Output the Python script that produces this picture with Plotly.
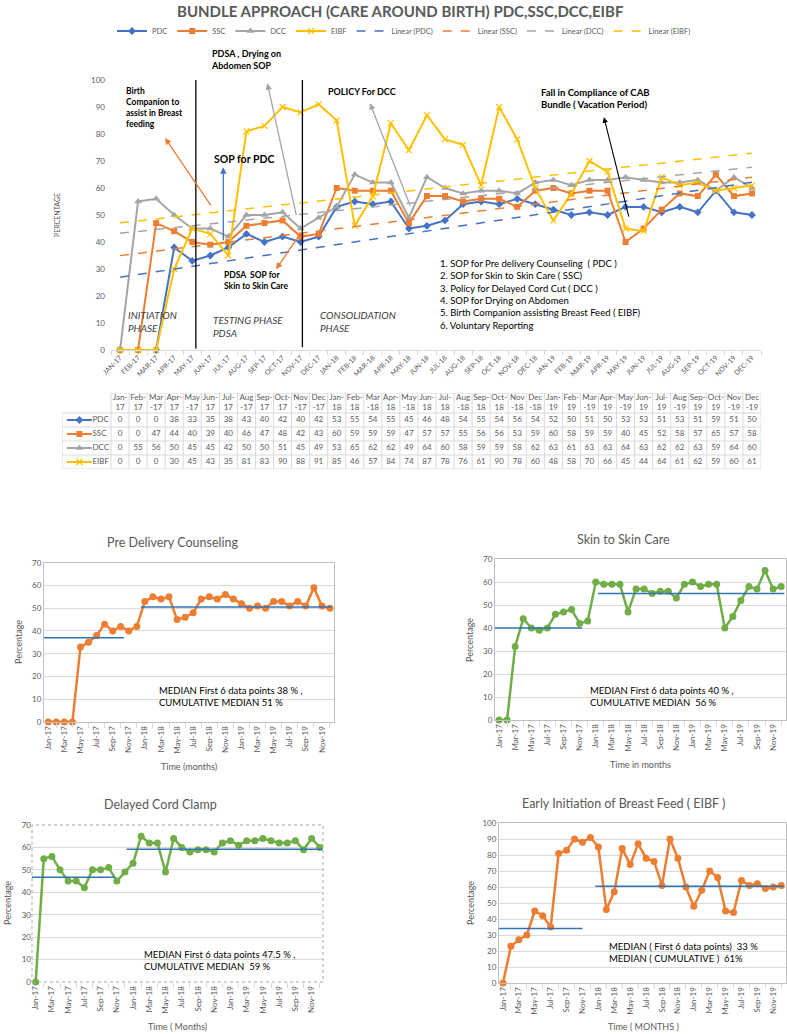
import numpy as np
import plotly.graph_objects as go

# ---------------- data ----------------
months = ["Jan-17", "Feb-17", "Mar-17", "Apr-17", "May-17", "Jun-17", "Jul-17", "Aug-17", "Sep-17",
          "Oct-17", "Nov-17", "Dec-17", "Jan-18", "Feb-18", "Mar-18", "Apr-18", "May-18", "Jun-18",
          "Jul-18", "Aug-18", "Sep-18", "Oct-18", "Nov-18", "Dec-18", "Jan-19", "Feb-19", "Mar-19",
          "Apr-19", "May-19", "Jun-19", "Jul-19", "Aug-19", "Sep-19", "Oct-19", "Nov-19", "Dec-19"]

pdc = [0, 0, 0, 38, 33, 35, 38, 43, 40, 42, 40, 42, 53, 55, 54, 55, 45, 46, 48, 54, 55, 54, 56, 54,
       52, 50, 51, 50, 53, 53, 51, 53, 51, 59, 51, 50]
ssc = [0, 0, 47, 44, 40, 39, 40, 46, 47, 48, 42, 43, 60, 59, 59, 59, 47, 57, 57, 55, 56, 56, 53, 59,
       60, 58, 59, 59, 40, 45, 52, 58, 57, 65, 57, 58]
dcc = [0, 55, 56, 50, 45, 45, 42, 50, 50, 51, 45, 49, 53, 65, 62, 62, 49, 64, 60, 58, 59, 59, 58, 62,
       63, 61, 63, 63, 64, 63, 62, 62, 63, 59, 64, 60]
eibf = [0, 0, 0, 30, 45, 43, 35, 81, 83, 90, 88, 91, 85, 46, 57, 84, 74, 87, 78, 76, 61, 90, 78, 60,
        48, 58, 70, 66, 45, 44, 64, 61, 62, 59, 60, 61]

# run charts (bottom panels)
pdc_run = [0, 0, 0, 0, 33, 35, 38, 43, 40, 42, 40, 42, 53, 55, 54, 55, 45, 46, 48, 54, 55, 54, 56, 54,
           52, 50, 51, 50, 53, 53, 51, 53, 51, 59, 51, 50]
ssc_run = [0, 0, 32, 44, 40, 39, 40, 46, 47, 48, 42, 43, 60, 59, 59, 59, 47, 57, 57, 55, 56, 56, 53, 59,
           60, 58, 59, 59, 40, 45, 52, 58, 57, 65, 57, 58]
dcc_run = [0, 55, 56, 50, 45, 45, 42, 50, 50, 51, 45, 49, 53, 65, 62, 62, 49, 64, 60, 58, 59, 59, 58, 62,
           63, 61, 63, 63, 64, 63, 62, 62, 63, 59, 64, 60]
eibf_run = [0, 23, 27, 30, 45, 42, 35, 81, 83, 90, 88, 91, 85, 46, 57, 84, 74, 87, 78, 76, 61, 90, 78, 60,
            48, 58, 70, 66, 45, 44, 64, 61, 62, 59, 60, 61]

median_first = {"PDC": 37, "SSC": 40, "DCC": 46.7, "EIBF": 34}
median_cum = {"PDC": 50.5, "SSC": 55, "DCC": 59.2, "EIBF": 60.5}

# ---------------- helpers ----------------
W, H = 787, 1034
FONT = "Lato, 'Open Sans', sans-serif"
GRAY = "#595959"


def px(x):
    return x / W


def py(y):
    return 1 - y / H


idx = np.arange(len(months))
main_ticks = [m.upper() for m in months]
wide = ("Mar", "May", "Aug", "Nov", "Dec")
table_header = [(m[:3] + "<br>-" + m[4:]) if m[:3] in wide else (m[:4] + "<br>" + m[4:]) for m in months]

C_PDC, C_SSC, C_DCC, C_EIBF = "#4472C4", "#ED7D31", "#A5A5A5", "#FFC000"
C_GREEN, C_ORANGE, C_MED = "#70AD47", "#ED7D31", "#2E75B6"

fig = go.Figure()

# ---------------- main chart ----------------
series = [("PDC", pdc, C_PDC, dict(symbol="diamond", size=6)),
          ("SSC", ssc, C_SSC, dict(symbol="square", size=6)),
          ("DCC", dcc, C_DCC, dict(symbol="triangle-up", size=7)),
          ("EIBF", eibf, C_EIBF, dict(symbol="x-thin", size=6, line=dict(width=1.2, color=C_EIBF)))]
for name, vals, col, mk in series:
    fig.add_trace(go.Scatter(x=idx, y=vals, name=name, mode="lines+markers",
                             line=dict(color=col, width=2), marker=dict(color=col, **mk),
                             cliponaxis=False, xaxis="x", yaxis="y"))
for name, vals, col, mk in series:
    slope, inter = np.polyfit(idx, vals, 1)
    fig.add_trace(go.Scatter(x=idx, y=slope * idx + inter, name=f"Linear ({name})", mode="lines",
                             line=dict(color=col, width=1.5, dash="dash"), xaxis="x", yaxis="y"))

# ---------------- data table (drawn on its own axes) ----------------
COLW, HEADW = 18.06, 49           # column widths in px
ROWH, HEADH = 14, 20              # row heights in px
t_left = -0.5 - HEADW / COLW
t_top = -0.5 - HEADH / ROWH
fig.add_trace(go.Scatter(x=idx, y=[(t_top - 0.5) / 2] * len(months), text=table_header, mode="text",
                         textfont=dict(size=8, color=GRAY, family=FONT), showlegend=False,
                         hoverinfo="skip", xaxis="x6", yaxis="y6"))
for r, (name, vals, col, mk) in enumerate(series):
    fig.add_trace(go.Scatter(x=idx, y=[r] * len(months), text=[str(v) for v in vals], mode="text",
                             textfont=dict(size=8, color=GRAY, family=FONT), showlegend=False,
                             hoverinfo="skip", xaxis="x6", yaxis="y6"))
    key_l, key_r = t_left + 0.27, t_left + 1.66
    fig.add_trace(go.Scatter(x=[key_l, key_r], y=[r] * 2, mode="lines",
                             line=dict(color=col, width=2),
                             showlegend=False, hoverinfo="skip", xaxis="x6", yaxis="y6"))
    fig.add_trace(go.Scatter(x=[(key_l + key_r) / 2], y=[r], mode="markers",
                             marker=dict(color=col, **mk), showlegend=False, hoverinfo="skip",
                             xaxis="x6", yaxis="y6"))
    fig.add_trace(go.Scatter(x=[key_r + 0.03], y=[r], text=[name], mode="text",
                             textposition="middle right",
                             textfont=dict(size=8, color=GRAY, family=FONT), showlegend=False,
                             hoverinfo="skip", xaxis="x6", yaxis="y6"))

grid = dict(color="#d9d9d9", width=1)
shapes = []
for b in np.arange(-0.5, len(months), 1.0):
    shapes.append(dict(type="line", xref="x6", yref="y6", x0=b, x1=b, y0=t_top, y1=3.5, line=grid))
shapes.append(dict(type="line", xref="x6", yref="y6", x0=t_left, x1=t_left, y0=-0.5, y1=3.5, line=grid))
shapes.append(dict(type="line", xref="x6", yref="y6", x0=-0.5, x1=len(months) - 0.5, y0=t_top, y1=t_top,
                   line=grid))
for yb in np.arange(-0.5, 4, 1.0):
    shapes.append(dict(type="line", xref="x6", yref="y6", x0=t_left, x1=len(months) - 0.5, y0=yb, y1=yb,
                       line=grid))

# ---------------- run charts ----------------
panels = [
    ("x2", "y2", pdc_run, C_ORANGE, "PDC", (-0.6, 9.4), (11.5, 35.2)),
    ("x3", "y3", ssc_run, C_GREEN, "SSC", (-0.5, 10.3), (12.3, 35.4)),
    ("x4", "y4", dcc_run, C_GREEN, "DCC", (-0.45, 9.8), (11.2, 35.3)),
    ("x5", "y5", eibf_run, C_ORANGE, "EIBF", (-0.5, 10.0), (11.6, 35.3)),
]
for xa, ya, vals, col, key, seg1, seg2 in panels:
    fig.add_trace(go.Scatter(x=idx, y=vals, mode="lines+markers", showlegend=False,
                             line=dict(color=col, width=2.5), marker=dict(color=col, size=7),
                             cliponaxis=False, xaxis=xa, yaxis=ya))
    fig.add_trace(go.Scatter(x=list(seg1), y=[median_first[key]] * 2, mode="lines", showlegend=False,
                             line=dict(color=C_MED, width=1.5), xaxis=xa, yaxis=ya))
    fig.add_trace(go.Scatter(x=list(seg2), y=[median_cum[key]] * 2, mode="lines", showlegend=False,
                             line=dict(color=C_MED, width=1.5), xaxis=xa, yaxis=ya))

# ---------------- axes ----------------
tickf = dict(size=8, color=GRAY, family=FONT)
lay = dict(
    xaxis=dict(domain=[px(111), px(761)], range=[-0.5, 35.5], anchor="y", automargin=False,
               tickmode="array", tickvals=idx, ticktext=main_ticks, tickangle=-45,
               tickfont=dict(size=7, color=GRAY, family=FONT), ticks="",
               showgrid=False, zeroline=False, showline=True, linecolor="#d9d9d9",
               minor=dict(ticks="outside", tick0=0.5, dtick=1, ticklen=4, tickcolor="#d9d9d9",
                          showgrid=False)),
    yaxis=dict(domain=[py(350), py(80)], range=[0, 100], dtick=10, anchor="x", automargin=False,
               tickfont=dict(size=8, color=GRAY, family=FONT), showgrid=False, zeroline=False,
               showline=False, ticks="", ticklabelstandoff=5),
    xaxis6=dict(domain=[px(62), px(761)], range=[t_left, len(months) - 0.5], anchor="y6",
                visible=False, automargin=False),
    yaxis6=dict(domain=[py(469), py(393)], range=[3.5, t_top], anchor="x6",
                visible=False, automargin=False),
)
small = {
    "2": ((44, 334), (722, 562.7), (-0.53, 35.5), 70),
    "3": ((495, 786), (720, 559), (-0.5, 35.6), 70),
    "4": ((32, 323), (982, 825), (-0.45, 35.4), 70),
    "5": ((499, 786), (983, 823), (-0.5, 35.6), 100),
}
small_ticks = idx[::2]
for k, (xd, yd, xr, ymax) in small.items():
    lay[f"xaxis{k}"] = dict(domain=[px(xd[0]), px(xd[1])], range=list(xr), anchor=f"y{k}",
                            automargin=False,
                            tickmode="array", tickvals=small_ticks,
                            ticktext=[months[i] for i in small_ticks], tickangle=-90,
                            tickfont=tickf, ticks="outside", ticklen=0, showgrid=False,
                            zeroline=False, showline=(k != "4"), mirror=True, linecolor="#bfbfbf",
                            minor=dict(ticks="outside", tick0=1, dtick=2, ticklen=5,
                                       tickcolor="#d9d9d9", showgrid=False))
    lay[f"yaxis{k}"] = dict(domain=[py(yd[0]), py(yd[1])], range=[0, ymax], dtick=10,
                            anchor=f"x{k}", automargin=False, tickfont=tickf, showgrid=True,
                            gridcolor="#d9d9d9", zeroline=False, showline=(k != "4"), mirror=True,
                            linecolor="#bfbfbf", ticks="")

# ---------------- annotations ----------------
ann = []


def text(x, y, t, size=9, color="black", xanchor="left", bold=False, italic=False, angle=0):
    if bold:
        t = "<b>" + t + "</b>"
    if italic:
        t = "<i>" + t + "</i>"
    ann.append(dict(x=px(x), y=py(y), xref="paper", yref="paper", text=t, showarrow=False,
                    xanchor=xanchor, yanchor="middle", align="left", textangle=angle,
                    font=dict(size=size, color=color, family=FONT)))


def arrow(tip, tail, color, width=1.3):
    ann.append(dict(x=tip[0], y=tip[1], ax=tail[0], ay=tail[1], xref="x", yref="y",
                    axref="x", ayref="y", text="", showarrow=True, arrowhead=2, arrowsize=1,
                    arrowwidth=width, arrowcolor=color))


text(400, 11, "BUNDLE APPROACH (CARE AROUND BIRTH) PDC,SSC,DCC,EIBF", size=15, color=GRAY,
     xanchor="center", bold=True)
text(57, 215, "PERCENTAGE", size=7, color=GRAY, xanchor="center", angle=-90)

text(124, 107, "Birth<br>Companion to<br>assist in Breast<br>feeding", size=8.5, bold=True)
text(209, 60, "PDSA , Drying on<br>Abdomen SOP", size=9, bold=True)
text(212, 159, "SOP for PDC", size=10.5, bold=True)
text(222, 280, "PDSA  SOP for<br>Skin to Skin Care", size=8.5, bold=True)
text(326, 92, "POLICY For DCC", size=9, bold=True)
text(539, 99, "Fall in Compliance of CAB<br>Bundle ( Vacation Period)", size=9.5, bold=True)
text(438, 294, "1. SOP for Pre delivery Counseling  ( PDC )<br>2. SOP for Skin to Skin Care ( SSC)<br>"
     "3. Policy for Delayed Cord Cut ( DCC )<br>4. SOP for Drying on Abdomen<br>"
     "5. Birth Companion assisting Breast Feed ( EIBF)<br>6. Voluntary Reporting", size=9.5)
text(126, 321, "INITIATION<br>PHASE", size=10, color="#404040", italic=True)
text(211, 326, "TESTING PHASE<br>PDSA", size=10, color="#404040", italic=True)
text(318, 322, "CONSOLIDATION<br>PHASE", size=10, color="#404040", italic=True)

arrow((2.49, 78.5), (5.09, 53), C_SSC)
arrow((8.16, 98.8), (9.78, 49.4), C_DCC)
arrow((5.72, 67.7), (5.72, 40.1), C_PDC)
arrow((8.64, 29.9), (10.15, 44.7), C_SSC)
arrow((13.84, 91.4), (16.1, 53), C_DCC)
arrow((26.8, 86.2), (28.2, 48.8), "black", 1.1)

# run chart texts
text(172, 542, "Pre Delivery Counseling", size=12.5, color=GRAY, xanchor="center")
text(623, 539, "Skin to Skin Care", size=12.5, color=GRAY, xanchor="center")
text(160, 804, "Delayed Cord Clamp", size=12.5, color=GRAY, xanchor="center")
text(623, 803, "Early Initiation of Breast Feed ( EIBF )", size=12.5, color=GRAY, xanchor="center")

text(18, 642, "Percentage", size=9, color=GRAY, xanchor="center", angle=-90)
text(469, 640, "Percentage", size=9, color=GRAY, xanchor="center", angle=-90)
text(7, 903, "Percentage", size=9, color=GRAY, xanchor="center", angle=-90)
text(470, 903, "Percentage", size=9, color=GRAY, xanchor="center", angle=-90)

text(189, 766, "Time (months)", size=9, color=GRAY, xanchor="center")
text(640, 764, "Time in months", size=9, color=GRAY, xanchor="center")
text(177, 1026, "Time ( Months)", size=9, color=GRAY, xanchor="center")
text(643, 1026, "Time ( MONTHS )", size=9, color=GRAY, xanchor="center")

text(157, 696, "MEDIAN First 6 data points 38 % ,<br>CUMULATIVE MEDIAN 51 %", size=9.5)
text(588, 696, "MEDIAN First 6 data points 40 % ,<br>CUMULATIVE MEDIAN  56 %", size=9.5)
text(142, 960, "MEDIAN First 6 data points 47.5 % ,<br>CUMULATIVE MEDIAN  59 %", size=9.5)
text(607, 952, "MEDIAN ( First 6 data points)  33 %<br>MEDIAN ( CUMULATIVE )  61%", size=9.5)

shapes += [
    dict(type="line", xref="x", yref="y", x0=4.2, x1=4.2, y0=0.5, y1=101,
         line=dict(color="black", width=1.3)),
    dict(type="line", xref="x", yref="y", x0=10.1, x1=10.1, y0=1, y1=101,
         line=dict(color="black", width=1.3)),
    dict(type="rect", xref="x4 domain", yref="y4 domain", x0=0, x1=1, y0=0, y1=1,
         line=dict(color="#a6a6a6", width=1, dash="dot")),
]

fig.update_layout(
    width=W, height=H, margin=dict(l=0, r=0, t=0, b=0, autoexpand=False),
    paper_bgcolor="white", plot_bgcolor="white",
    font=dict(family=FONT, color=GRAY),
    showlegend=True,
    legend=dict(orientation="h", x=px(404), xanchor="center", y=py(31), yanchor="middle",
                font=dict(size=7.5, color=GRAY, family=FONT), itemwidth=30, bgcolor="rgba(0,0,0,0)"),
    annotations=ann, shapes=shapes, **lay)

fig.write_html("out.html", config={"displayModeBar": False},
               post_script="document.body.style.margin='0';document.body.style.overflow='hidden';")
